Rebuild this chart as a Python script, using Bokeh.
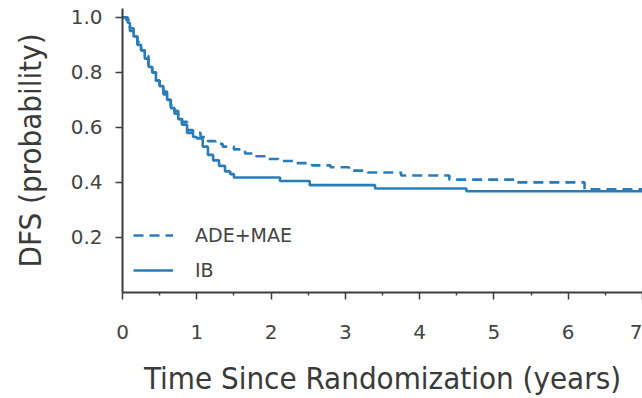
from bokeh.plotting import figure
from bokeh.models import FixedTicker, PrintfTickFormatter, Range1d, Legend
from bokeh.embed import file_html
from bokeh.resources import INLINE

# ADE+MAE (dashed) Kaplan-Meier step points
ade_t = [0, 0.05, 0.10, 0.15, 0.20, 0.25, 0.30, 0.35, 0.40, 0.45, 0.50, 0.55, 0.60, 0.65,
         0.70, 0.75, 0.80, 0.87, 0.95, 1.05, 1.15, 1.25, 1.35, 1.50, 1.65, 1.80, 1.95, 2.10,
         2.30, 2.55, 2.80, 3.05, 3.30, 3.75, 4.40, 5.30, 6.22, 7.0]
ade_s = [1.0, 0.99, 0.96, 0.93, 0.91, 0.88, 0.86, 0.83, 0.80, 0.77, 0.75, 0.73, 0.70, 0.68,
         0.66, 0.64, 0.62, 0.59, 0.58, 0.565, 0.55, 0.54, 0.53, 0.52, 0.505, 0.495, 0.485, 0.478,
         0.47, 0.462, 0.455, 0.443, 0.436, 0.425, 0.41, 0.40, 0.375, 0.375]

# IB (solid) Kaplan-Meier step points
ib_t = [0, 0.07, 0.10, 0.15, 0.20, 0.25, 0.30, 0.35, 0.40, 0.45, 0.50, 0.55, 0.60, 0.65,
        0.70, 0.75, 0.80, 0.87, 0.95, 1.00, 1.08, 1.15, 1.22, 1.30, 1.38, 1.45, 1.50, 2.12,
        2.52, 3.40, 4.63, 7.0]
ib_s = [1.0, 0.98, 0.95, 0.93, 0.90, 0.88, 0.85, 0.82, 0.80, 0.77, 0.75, 0.72, 0.70, 0.67,
        0.65, 0.63, 0.61, 0.58, 0.565, 0.56, 0.53, 0.50, 0.48, 0.46, 0.44, 0.43, 0.418, 0.405,
        0.39, 0.378, 0.368, 0.368]

x_ticks = [0, 1, 2, 3, 4, 5, 6, 7]
x_minor = [0.5, 1.5, 2.5, 3.5, 4.5, 5.5, 6.5]
y_ticks = [0.2, 0.4, 0.6, 0.8, 1.0]

COLOR = "#2a7cb8"
AXIS_COLOR = "#3c3c3c"
TEXT_COLOR = "#444444"

p = figure(width=642, height=398, output_backend="svg", toolbar_location=None,
           x_range=Range1d(0, 7.0), y_range=Range1d(0, 1.032),
           min_border_left=122, min_border_right=0, min_border_top=8, min_border_bottom=101)
p.outline_line_color = None
p.xgrid.visible = False
p.ygrid.visible = False

r1 = p.step(ade_t, ade_s, mode="after", line_color=COLOR, line_width=2.6, line_dash="10 6")
r2 = p.step(ib_t, ib_s, mode="after", line_color=COLOR, line_width=2.6)

legend = Legend(items=[("ADE+MAE", [r1]), ("IB", [r2])], location=(11, 11))
legend.border_line_color = None
legend.background_fill_alpha = 0
legend.padding = 0
legend.margin = 0
legend.spacing = 13
legend.glyph_width = 40
legend.glyph_height = 20
legend.label_height = 20
legend.label_standoff = 22
legend.label_text_font = "DejaVu Sans"
legend.label_text_font_size = "19px"
legend.label_text_color = TEXT_COLOR
p.add_layout(legend)

for ax in (p.xaxis[0], p.yaxis[0]):
    ax.axis_line_color = AXIS_COLOR
    ax.axis_line_width = 2
    ax.major_tick_line_color = AXIS_COLOR
    ax.major_tick_line_width = 1.5
    ax.minor_tick_line_color = AXIS_COLOR
    ax.minor_tick_line_width = 1.5
    ax.major_tick_in = 0
    ax.major_tick_out = 7
    ax.minor_tick_in = 0
    ax.major_label_text_font = "DejaVu Sans"
    ax.major_label_text_font_size = "20px"
    ax.major_label_text_color = TEXT_COLOR
    ax.axis_label_text_font = "DejaVu Sans Condensed"
    ax.axis_label_text_font_size = "31px"
    ax.axis_label_text_font_style = "normal"
    ax.axis_label_text_color = "#3a3a3a"

p.xaxis.ticker = FixedTicker(ticks=x_ticks, minor_ticks=x_minor)
p.xaxis.minor_tick_out = 3
p.xaxis.major_label_standoff = 25
p.xaxis.axis_label = "Time Since Randomization (years)"
p.xaxis.axis_label_standoff = 18

p.yaxis.ticker = FixedTicker(ticks=y_ticks, minor_ticks=[])
p.yaxis.formatter = PrintfTickFormatter(format="%.1f")
p.yaxis.minor_tick_out = 0
p.yaxis.major_label_standoff = 13
p.yaxis.axis_label = "DFS (probability)"
p.yaxis.axis_label_standoff = 20

open("out.html", "w").write(file_html(p, INLINE))
